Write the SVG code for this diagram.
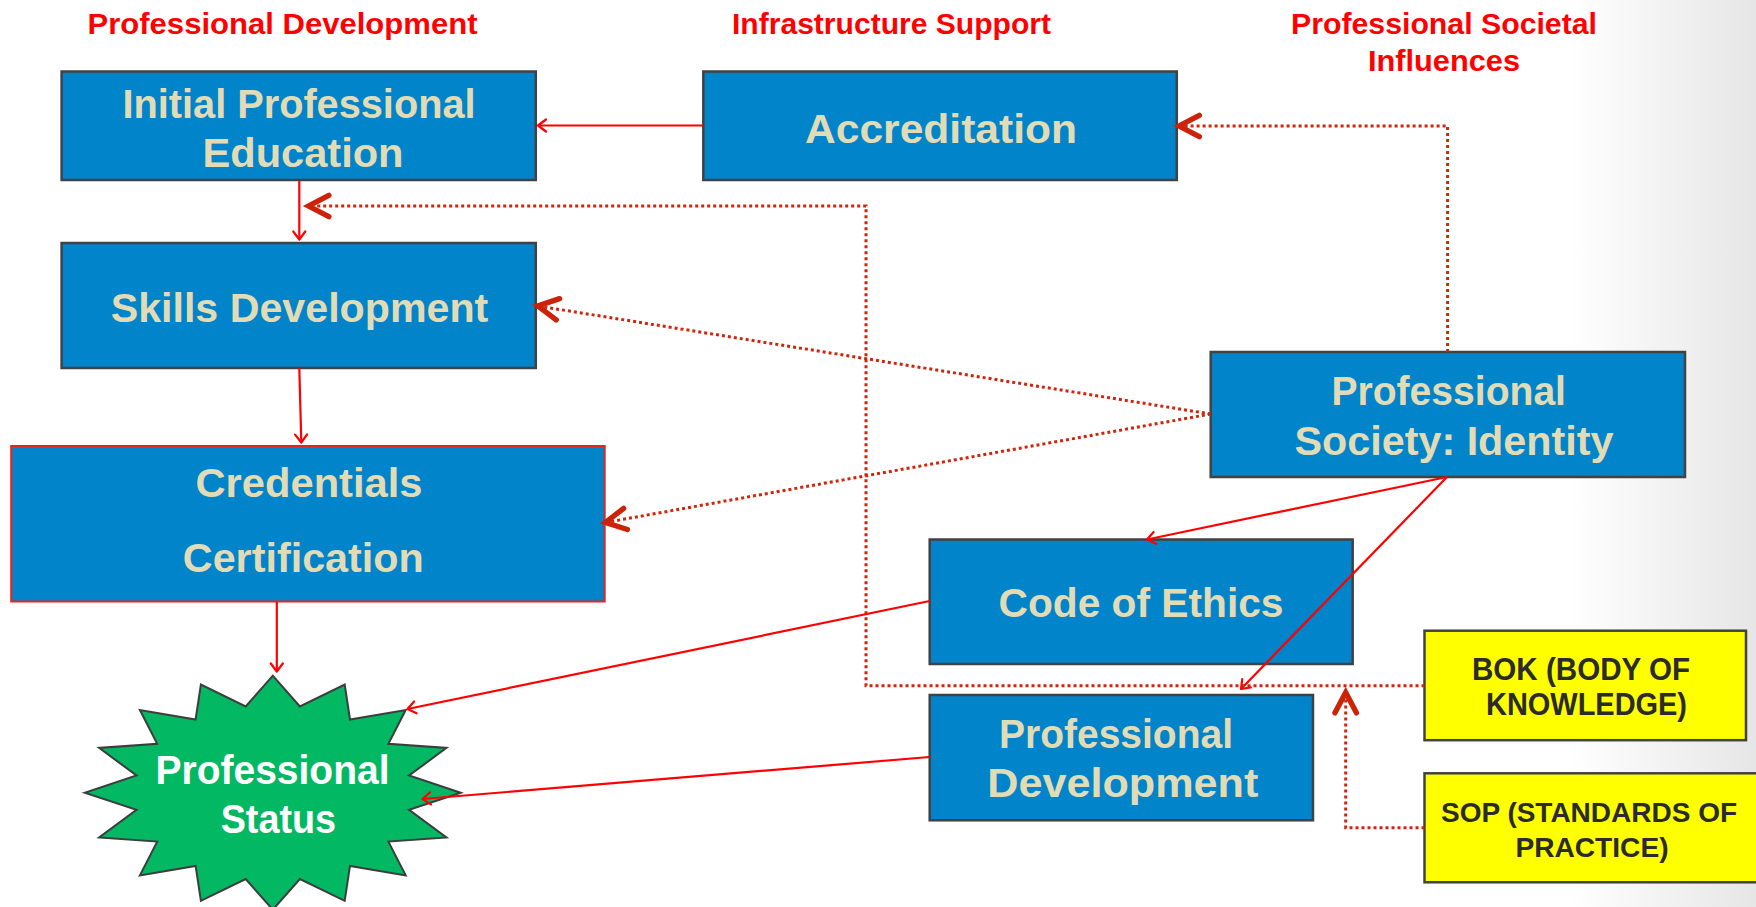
<svg xmlns="http://www.w3.org/2000/svg" width="1756" height="907" viewBox="0 0 1756 907">
<defs>
<linearGradient id="edge" x1="0" y1="0" x2="1" y2="0">
<stop offset="0" stop-color="#ffffff"/>
<stop offset="1" stop-color="#e6e6e6"/>
</linearGradient>
<marker id="solidArrow" markerUnits="userSpaceOnUse" markerWidth="20" markerHeight="20" viewBox="-12 -10 14 20" refX="0" refY="0" orient="auto" overflow="visible">
<path d="M-8,-6 L0,0 L-8,6" fill="none" stroke="#ff0000" stroke-width="2.2" stroke-linecap="round" stroke-linejoin="round"/>
</marker>
<marker id="dotArrow" markerUnits="userSpaceOnUse" markerWidth="30" markerHeight="30" viewBox="-24 -14 28 28" refX="0" refY="0" orient="auto" overflow="visible">
<path d="M-19,-10 L0,0 L-19,10" fill="none" stroke="#cc2208" stroke-width="5" stroke-linecap="round" stroke-linejoin="miter"/>
</marker>
<style>
.title{font-family:"Liberation Sans",Arial,sans-serif;font-weight:bold;font-size:30px;fill:#ff0000;text-anchor:middle}
.box{fill:#0284ca;stroke:#424242;stroke-width:2.5}
.red{fill:#0284ca;stroke:#e5251c;stroke-width:2}
.lbl{font-family:"Liberation Sans",Arial,sans-serif;font-weight:bold;font-size:41.5px;fill:#e2dcb6;text-anchor:middle}
.wlbl{font-family:"Liberation Sans",Arial,sans-serif;font-weight:bold;font-size:41.5px;fill:#ffffff;text-anchor:middle}
.ybox{fill:#ffff00;stroke:#424242;stroke-width:2.5}
.ylbl{font-family:"Liberation Sans",Arial,sans-serif;font-weight:bold;font-size:32px;fill:#2b2b2b;text-anchor:middle}
.slbl{font-family:"Liberation Sans",Arial,sans-serif;font-weight:bold;font-size:28px;fill:#2b2b2b;text-anchor:middle}
.solid{fill:none;stroke:#ff0000;stroke-width:2.2;marker-end:url(#solidArrow)}
.dottedA{fill:none;stroke:#d0240c;stroke-width:3;stroke-dasharray:3 3;marker-end:url(#dotArrow)}
</style>
</defs>
<rect x="0" y="0" width="1756" height="907" fill="#ffffff"/>
<rect x="1570" y="0" width="186" height="907" fill="url(#edge)"/>

<g id="titles">
<text class="title" x="282.5" y="33.5" textLength="390" lengthAdjust="spacingAndGlyphs">Professional Development</text>
<text class="title" x="891.5" y="33.5" textLength="319" lengthAdjust="spacingAndGlyphs">Infrastructure Support</text>
<text class="title" x="1444" y="33.5" textLength="306" lengthAdjust="spacingAndGlyphs">Professional Societal</text>
<text class="title" x="1444" y="70.7" textLength="152" lengthAdjust="spacingAndGlyphs">Influences</text>
</g>

<g id="node-initial-education">
<rect class="box" x="61.6" y="71.5" width="474.2" height="108.5"/>
<text class="lbl" x="299" y="118.3" textLength="353" lengthAdjust="spacingAndGlyphs">Initial Professional</text>
<text class="lbl" x="303" y="166.7" textLength="201" lengthAdjust="spacingAndGlyphs">Education</text>
</g>

<g id="node-accreditation">
<rect class="box" x="703.3" y="71.5" width="473.5" height="108.5"/>
<text class="lbl" x="941" y="143.3" textLength="272" lengthAdjust="spacingAndGlyphs">Accreditation</text>
</g>

<g id="node-skills">
<rect class="box" x="61.6" y="243" width="474.2" height="125"/>
<text class="lbl" x="299.5" y="321.7" textLength="377.6" lengthAdjust="spacingAndGlyphs">Skills Development</text>
</g>

<g id="node-credentials">
<rect class="red" x="11.2" y="446" width="593.5" height="155.5"/>
<text class="lbl" x="309" y="496.7" textLength="227" lengthAdjust="spacingAndGlyphs">Credentials</text>
<text class="lbl" x="303.3" y="571.7" textLength="241" lengthAdjust="spacingAndGlyphs">Certification</text>
</g>

<g id="node-professional-status">
<polygon points="272.8,675.7 299.9,706.4 344.7,684.6 350.0,719.5 405.7,710.0 388.4,743.8 446.5,747.9 409.1,775.5 460.8,792.7 409.1,809.9 446.5,837.5 388.4,841.6 405.7,875.4 350.0,865.9 344.7,900.8 299.9,879.0 272.8,909.7 245.7,879.0 200.9,900.8 195.6,865.9 139.9,875.4 157.2,841.6 99.1,837.5 136.5,809.9 84.8,792.7 136.5,775.5 99.1,747.9 157.2,743.8 139.9,710.0 195.6,719.5 200.9,684.6 245.7,706.4" fill="#03b862" stroke="#3d3d3d" stroke-width="2"/>
<text class="wlbl" x="272.5" y="784.3" textLength="234" lengthAdjust="spacingAndGlyphs">Professional</text>
<text class="wlbl" x="278.4" y="833.3" textLength="115.5" lengthAdjust="spacingAndGlyphs">Status</text>
</g>

<g id="node-professional-society">
<rect class="box" x="1210.7" y="352" width="474.3" height="125"/>
<text class="lbl" x="1448.7" y="405" textLength="234.6" lengthAdjust="spacingAndGlyphs">Professional</text>
<text class="lbl" x="1454" y="455" textLength="319" lengthAdjust="spacingAndGlyphs">Society: Identity</text>
</g>

<g id="node-code-of-ethics">
<rect class="box" x="929.7" y="539.5" width="423" height="124.5"/>
<text class="lbl" x="1141" y="616.7" textLength="285" lengthAdjust="spacingAndGlyphs">Code of Ethics</text>
</g>

<g id="node-professional-development">
<rect class="box" x="929.7" y="695" width="383.3" height="125.3"/>
<text class="lbl" x="1116" y="748.3" textLength="234" lengthAdjust="spacingAndGlyphs">Professional</text>
<text class="lbl" x="1122.8" y="797.3" textLength="271" lengthAdjust="spacingAndGlyphs">Development</text>
</g>

<g id="node-bok">
<rect class="ybox" x="1424.5" y="630.7" width="321.5" height="109.5"/>
<text class="ylbl" x="1581" y="680" textLength="218" lengthAdjust="spacingAndGlyphs">BOK (BODY OF</text>
<text class="ylbl" x="1586.5" y="715" textLength="201" lengthAdjust="spacingAndGlyphs">KNOWLEDGE)</text>
</g>

<g id="node-sop">
<rect class="ybox" x="1424.5" y="773.3" width="334" height="109"/>
<text class="slbl" x="1589" y="821.7" textLength="296" lengthAdjust="spacingAndGlyphs">SOP (STANDARDS OF</text>
<text class="slbl" x="1592" y="856.7" textLength="153" lengthAdjust="spacingAndGlyphs">PRACTICE)</text>
</g>

<g id="connectors">
<line class="solid" x1="703" y1="125.5" x2="538" y2="125.5"/>
<line class="solid" x1="299.3" y1="181" x2="299.3" y2="239.5"/>
<line class="solid" x1="299.3" y1="368" x2="301.3" y2="442.5"/>
<line class="solid" x1="276.8" y1="602" x2="276.8" y2="671.5"/>
<line class="solid" x1="929.7" y1="601" x2="407.5" y2="709"/>
<line class="solid" x1="929.7" y1="757" x2="422.5" y2="799"/>
<line class="solid" x1="1447" y1="477" x2="1147" y2="539.5"/>
<line class="solid" x1="1447" y1="477" x2="1241" y2="689"/>
<polyline class="dottedA" points="1447.6,352 1447.6,126 1179,126"/>
<polyline class="dottedA" points="1424.5,685.7 866,685.7 866,206 308.5,206"/>
<polyline class="dottedA" points="1424.5,827.7 1345.7,827.7 1345.7,692.5"/>
<line class="dottedA" x1="1210.7" y1="414" x2="537.8" y2="306"/>
<line class="dottedA" x1="1210.7" y1="414" x2="605.5" y2="522.5"/>
</g>
</svg>
